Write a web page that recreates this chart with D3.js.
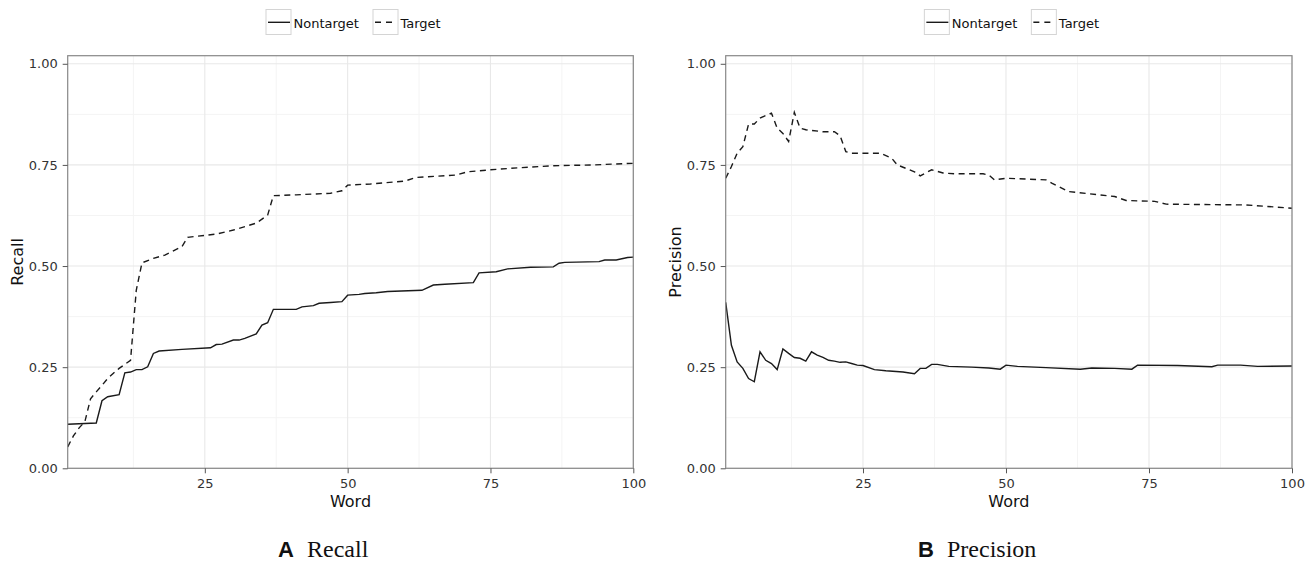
<!DOCTYPE html>
<html>
<head>
<meta charset="utf-8">
<script src="https://cdn.jsdelivr.net/npm/d3@7"></script>
<style>
  body { margin: 0; background: #fff; }
  svg { display: block; }
</style>
</head>
<body>
<svg id="chart" width="1312" height="563"></svg>
<script>
// values, [word, value] at each change of slope
const recallNontarget = [[1,0.109],[6,0.112],[7,0.167],[8,0.177],[10,0.182],[11,0.236],[12,0.238],[13,0.244],[14,0.244],[15,0.251],[16,0.284],[17,0.290],[21,0.294],[26,0.298],[27,0.306],[28,0.307],[30,0.317],[31,0.317],[32,0.321],[34,0.332],[35,0.354],[36,0.360],[37,0.393],[41,0.393],[42,0.399],[44,0.402],[45,0.408],[47,0.410],[49,0.412],[50,0.428],[52,0.430],[53,0.432],[55,0.434],[57,0.437],[63,0.440],[65,0.453],[67,0.455],[72,0.459],[73,0.483],[76,0.486],[78,0.493],[82,0.497],[86,0.498],[87,0.507],[88,0.509],[94,0.511],[95,0.515],[97,0.515],[99,0.521],[100,0.522]];
const recallTarget = [[1,0.053],[2,0.080],[3,0.100],[4,0.115],[5,0.172],[6,0.189],[7,0.205],[8,0.222],[9,0.235],[10,0.247],[12,0.267],[13,0.440],[14,0.508],[16,0.519],[18,0.527],[21,0.548],[22,0.571],[27,0.579],[30,0.589],[34,0.606],[36,0.626],[37,0.674],[41,0.676],[47,0.680],[49,0.686],[50,0.700],[54,0.703],[60,0.710],[62,0.719],[69,0.725],[71,0.733],[75,0.738],[80,0.743],[86,0.748],[93,0.750],[100,0.754]];
const precisionNontarget = [[1,0.410],[2,0.304],[3,0.263],[4,0.247],[5,0.222],[6,0.214],[7,0.288],[8,0.267],[9,0.259],[10,0.244],[11,0.295],[12,0.284],[13,0.274],[14,0.272],[15,0.265],[16,0.288],[17,0.280],[18,0.274],[19,0.267],[20,0.265],[21,0.262],[22,0.263],[23,0.259],[24,0.255],[25,0.254],[27,0.244],[29,0.241],[32,0.238],[34,0.234],[35,0.247],[36,0.247],[37,0.257],[38,0.257],[40,0.252],[44,0.250],[47,0.248],[49,0.245],[50,0.255],[52,0.252],[57,0.249],[63,0.245],[65,0.248],[69,0.247],[72,0.245],[73,0.255],[80,0.254],[86,0.251],[87,0.255],[91,0.255],[94,0.252],[100,0.253]];
const precisionTarget = [[1,0.717],[2,0.746],[3,0.779],[4,0.795],[5,0.851],[6,0.851],[7,0.866],[9,0.878],[10,0.841],[11,0.828],[12,0.808],[13,0.880],[14,0.841],[15,0.837],[18,0.832],[20,0.832],[21,0.822],[22,0.783],[23,0.779],[28,0.779],[30,0.767],[31,0.750],[34,0.733],[35,0.723],[37,0.738],[39,0.730],[41,0.728],[46,0.728],[47,0.725],[48,0.713],[50,0.717],[57,0.713],[58,0.705],[61,0.684],[69,0.672],[71,0.662],[76,0.660],[78,0.653],[92,0.651],[100,0.643]];

const xTicks = [25, 50, 75, 100];
const xMinor = [12.5, 37.5, 62.5, 87.5];
const yTicks = [0, 0.25, 0.5, 0.75, 1];
const yMinor = [0.125, 0.375, 0.625, 0.875];
const legendLabels = ["Nontarget", "Target"];

const svg = d3.select("#chart");
svg.append("rect").attr("width", 1312).attr("height", 563).attr("fill", "#fff");

const sans = "DejaVu Sans, Liberation Sans, sans-serif";
const DASH = "6,4.5";

function panel(opts) {
  const x = d3.scaleLinear([1, 100], [opts.left, opts.right]);
  const y = d3.scaleLinear([0, 1.02], [468.3, 55.7]);
  const g = svg.append("g");

  // grid
  g.selectAll(".minx").data(xMinor).join("line")
    .attr("x1", d => x(d)).attr("x2", d => x(d)).attr("y1", y(0)).attr("y2", y(1.02))
    .attr("stroke", "#f4f4f4").attr("stroke-width", 1);
  g.selectAll(".miny").data(yMinor).join("line")
    .attr("x1", opts.left).attr("x2", opts.right).attr("y1", d => y(d)).attr("y2", d => y(d))
    .attr("stroke", "#f4f4f4").attr("stroke-width", 1);
  g.selectAll(".majx").data(xTicks).join("line")
    .attr("x1", d => x(d)).attr("x2", d => x(d)).attr("y1", y(0)).attr("y2", y(1.02))
    .attr("stroke", "#e8e8e8").attr("stroke-width", 1.1);
  g.selectAll(".majy").data(yTicks).join("line")
    .attr("x1", opts.left).attr("x2", opts.right).attr("y1", d => y(d)).attr("y2", d => y(d))
    .attr("stroke", "#e8e8e8").attr("stroke-width", 1.1);

  const line = d3.line(d => x(d[0]), d => y(d[1]));
  g.append("path").datum(opts.solid).attr("d", line)
    .attr("fill", "none").attr("stroke", "#1a1a1a").attr("stroke-width", 1.4);
  g.append("path").datum(opts.dashed).attr("d", line)
    .attr("fill", "none").attr("stroke", "#1a1a1a").attr("stroke-width", 1.4)
    .attr("stroke-dasharray", DASH);

  // border
  g.append("rect").attr("x", opts.left).attr("y", 55.7)
    .attr("width", opts.right - opts.left).attr("height", 468.3 - 55.7)
    .attr("fill", "none").attr("stroke", "#888").attr("stroke-width", 1.2);

  // axes
  const gx = g.append("g").attr("transform", "translate(0,468.3)")
    .call(d3.axisBottom(x).tickValues(xTicks).tickSize(5).tickPadding(5));
  const gy = g.append("g").attr("transform", `translate(${opts.left},0)`)
    .call(d3.axisLeft(y).tickValues(yTicks).tickSize(5).tickPadding(5).tickFormat(d3.format(".2f")));
  [gx, gy].forEach(a => {
    a.select(".domain").remove();
    a.selectAll("line").attr("stroke", "#555");
    a.selectAll("text").attr("font-family", sans).attr("font-size", 13).attr("fill", "#333");
  });

  const cx = (opts.left + opts.right) / 2;
  g.append("text").attr("x", cx).attr("y", 506.5).attr("text-anchor", "middle")
    .attr("font-family", sans).attr("font-size", 16).attr("fill", "#111").text("Word");
  g.append("text").attr("transform", `translate(${opts.left - 44.5},262) rotate(-90)`)
    .attr("text-anchor", "middle")
    .attr("font-family", sans).attr("font-size", 16).attr("fill", "#111").text(opts.ylab);

  // legend
  const lg = g.append("g").attr("transform", `translate(${cx - 85},9)`);
  const keyX = [0, 107];
  legendLabels.forEach((lab, i) => {
    const k = lg.append("g").attr("transform", `translate(${keyX[i]},0)`);
    k.append("rect").attr("x", 0.5).attr("y", 0.5).attr("width", 25).attr("height", 25)
      .attr("fill", "#fff").attr("stroke", "#d4d4d4").attr("stroke-width", 1);
    k.append("line").attr("x1", 2.5).attr("x2", 24.5).attr("y1", 13.3).attr("y2", 13.3)
      .attr("stroke", "#1a1a1a").attr("stroke-width", 1.4)
      .attr("stroke-dasharray", i === 1 ? "6,5" : null);
    k.append("text").attr("x", 28).attr("y", 18.7)
      .attr("font-family", sans).attr("font-size", 13).attr("fill", "#111").text(lab);
  });

  // caption
  g.append("text").attr("x", opts.capX).attr("y", 557)
    .attr("font-family", "Liberation Sans, Arial, sans-serif").attr("font-weight", "bold")
    .attr("font-size", 22).attr("fill", "#111").text(opts.capLetter);
  g.append("text").attr("x", opts.capX + 29).attr("y", 557)
    .attr("font-family", "Liberation Serif, Times New Roman, serif")
    .attr("font-size", 24).attr("fill", "#111").text(opts.capWord);
}

panel({ left: 67.7, right: 633.3, solid: recallNontarget, dashed: recallTarget,
  ylab: "Recall", capX: 278, capLetter: "A", capWord: "Recall" });
panel({ left: 725.7, right: 1292, solid: precisionNontarget, dashed: precisionTarget,
  ylab: "Precision", capX: 918, capLetter: "B", capWord: "Precision" });
</script>
</body>
</html>
